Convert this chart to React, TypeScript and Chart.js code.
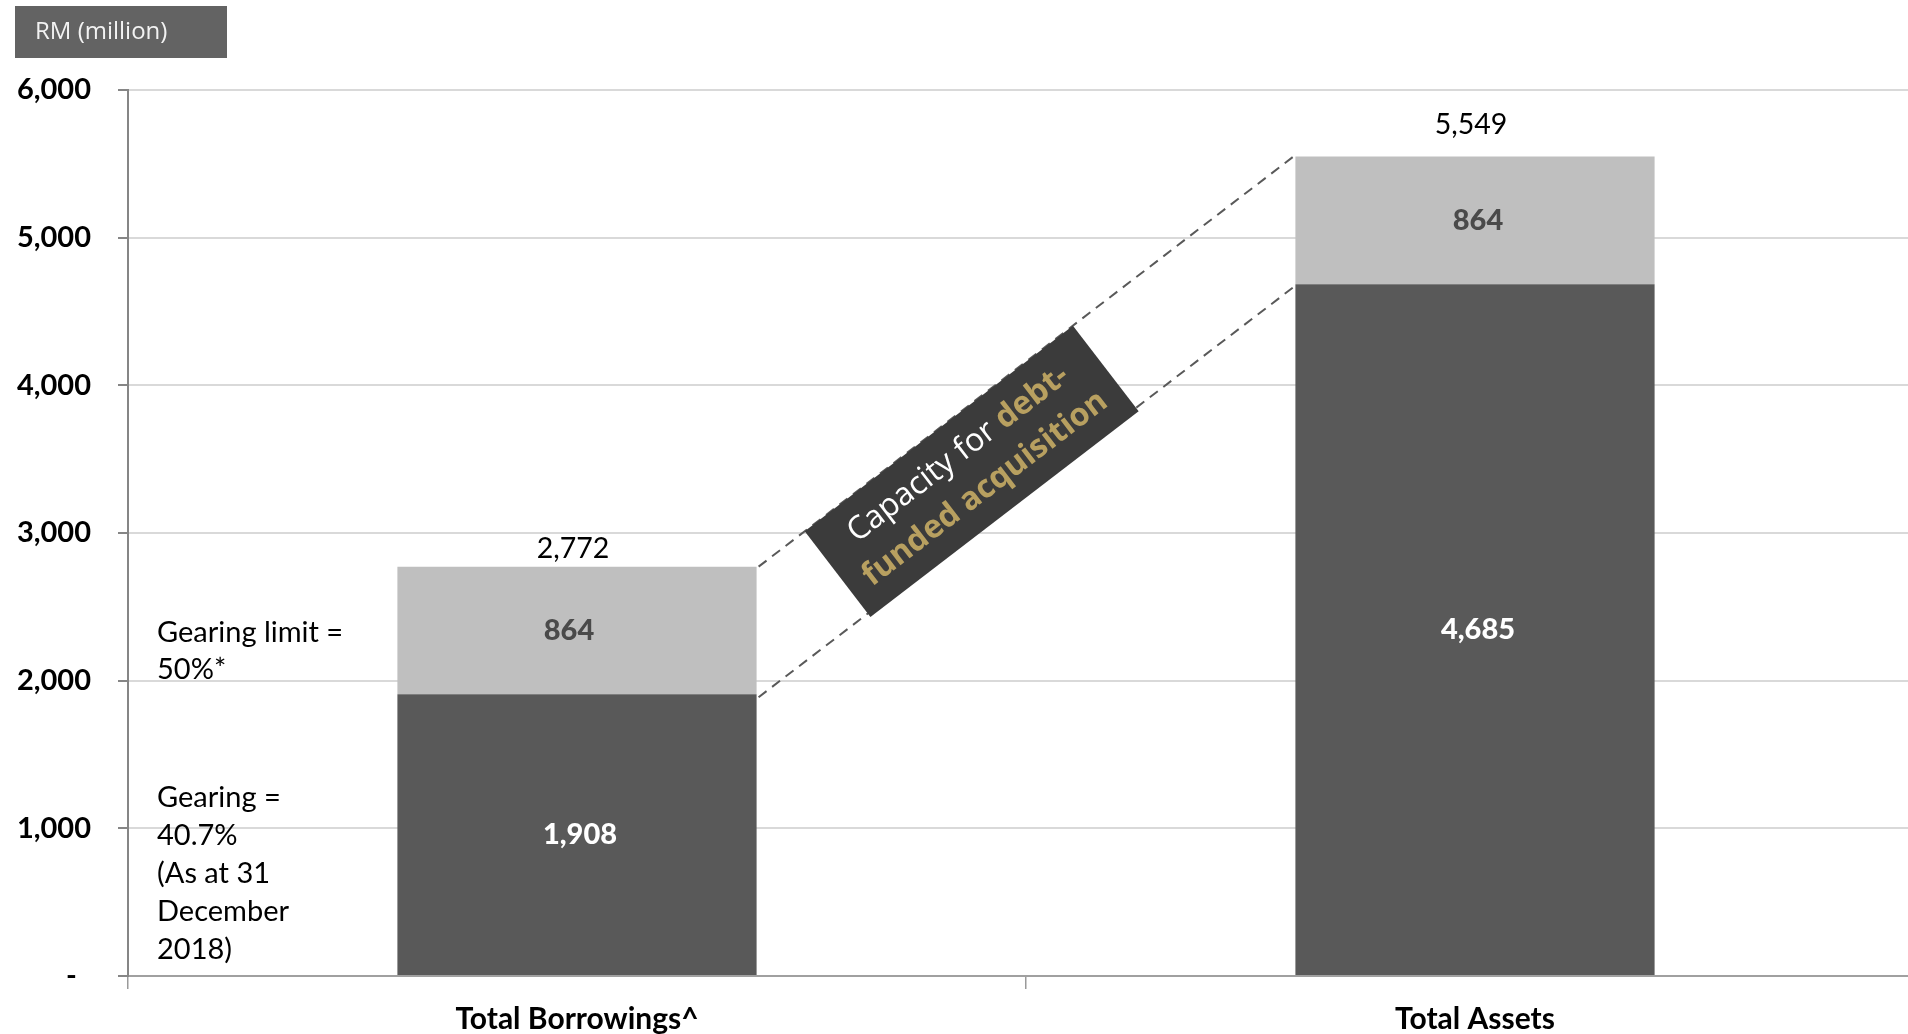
import React, { useEffect, useRef } from "react";
import { Chart, registerables } from "chart.js";

Chart.register(...registerables);

// ---- data ----
const categories = ["Total Borrowings^", "Total Assets"];
const baseValues = [1908, 4685];
const capacityValues = [864, 864];
const yTickValues = [0, 1000, 2000, 3000, 4000, 5000, 6000];
const unitLabel = "RM (million)";
const gearingLimitNote = ["Gearing limit =", "50%*"];
const gearingNote = ["Gearing =", "40.7%", "(As at 31", "December", "2018)"];
const calloutWhite = "Capacity for ";
const calloutGoldLine1 = "debt-";
const calloutGoldLine2 = "funded acquisition";

const fmt = (v: number) => v.toLocaleString("en-US");

const DARK = "#595959";
const LIGHT = "#bfbfbf";
const GOLD = "#b8a060";

const overlayPlugin = {
  id: "overlay",
  afterDatasetsDraw(chart: any) {
    const ctx: CanvasRenderingContext2D = chart.ctx;
    const ys = chart.scales.y;
    const ca = chart.chartArea;
    const baseEls = chart.getDatasetMeta(0).data;
    const capEls = chart.getDatasetMeta(1).data;
    ctx.save();

    // segment labels
    ctx.textAlign = "center";
    ctx.textBaseline = "middle";
    ctx.font = "900 29px Lato";
    baseEls.forEach((el: any, i: number) => {
      const p = el.getProps(["x", "y", "base"], true);
      ctx.fillStyle = "#ffffff";
      ctx.fillText(fmt(baseValues[i]), p.x + 3, (p.y + p.base) / 2);
    });
    const capShift = [-8, 3];
    capEls.forEach((el: any, i: number) => {
      const p = el.getProps(["x", "y", "base"], true);
      ctx.fillStyle = "#4a4a4a";
      ctx.fillText(fmt(capacityValues[i]), p.x + capShift[i], (p.y + p.base) / 2);
    });

    // totals above bars
    const totalOffsets = [18, 32];
    ctx.font = "28.5px Lato";
    ctx.fillStyle = "#000000";
    capEls.forEach((el: any, i: number) => {
      const p = el.getProps(["x", "y"], true);
      ctx.fillText(fmt(baseValues[i] + capacityValues[i]), p.x - 4, p.y - totalOffsets[i]);
    });

    // dashed connector lines
    const b0 = baseEls[0].getProps(["x", "width"], true);
    const b1 = baseEls[1].getProps(["x", "width"], true);
    const r1 = b0.x + b0.width / 2 + 2;
    const l2 = b1.x - b1.width / 2 - 2;
    const t0 = baseValues[0] + capacityValues[0];
    const t1 = baseValues[1] + capacityValues[1];
    const p1 = { x: r1, y: ys.getPixelForValue(t0) };
    const p2 = { x: l2, y: ys.getPixelForValue(t1) };
    const q1 = { x: r1, y: ys.getPixelForValue(baseValues[0]) + 3 };
    const q2 = { x: l2, y: ys.getPixelForValue(baseValues[1]) + 3 };
    ctx.strokeStyle = DARK;
    ctx.lineWidth = 2;
    ctx.setLineDash([10, 7]);
    ctx.beginPath();
    ctx.moveTo(p1.x, p1.y);
    ctx.lineTo(p2.x, p2.y);
    ctx.moveTo(q1.x, q1.y);
    ctx.lineTo(q2.x, q2.y);
    ctx.stroke();
    ctx.setLineDash([]);

    // rotated callout box
    const dx = p2.x - p1.x;
    const dy = p2.y - p1.y;
    const L = Math.hypot(dx, dy);
    const ux = dx / L, uy = dy / L;
    const nx = -uy, ny = ux;
    const boxLen = 338, boxW = 108;
    const s = 0.337 * L;
    const cx = p1.x + ux * s + nx * (boxW / 2);
    const cy = p1.y + uy * s + ny * (boxW / 2);
    ctx.translate(cx, cy);
    ctx.rotate(Math.atan2(dy, dx));
    ctx.fillStyle = "#3b3b3b";
    ctx.fillRect(-boxLen / 2, -boxW / 2, boxLen, boxW);
    ctx.textBaseline = "middle";
    ctx.textAlign = "left";
    const fs = 32;
    ctx.font = `${fs}px 'Open Sans'`;
    const w1 = ctx.measureText(calloutWhite).width;
    ctx.font = `bold ${fs}px 'Open Sans'`;
    const w2 = ctx.measureText(calloutGoldLine1).width;
    const start = -(w1 + w2) / 2;
    ctx.font = `${fs}px 'Open Sans'`;
    ctx.fillStyle = "#ffffff";
    ctx.fillText(calloutWhite, start, -22);
    ctx.font = `bold ${fs}px 'Open Sans'`;
    ctx.fillStyle = GOLD;
    ctx.fillText(calloutGoldLine1, start + w1, -22);
    ctx.textAlign = "center";
    ctx.fillText(calloutGoldLine2, 0, 22);
    ctx.restore();

    // side notes
    ctx.save();
    ctx.font = "29px Lato";
    ctx.fillStyle = "#000000";
    ctx.textAlign = "left";
    ctx.textBaseline = "middle";
    const nxPos = ca.left + 29;
    gearingLimitNote.forEach((t, i) => ctx.fillText(t, nxPos, ca.top + 543 + i * 37));
    gearingNote.forEach((t, i) => ctx.fillText(t, nxPos, ca.top + 708 + i * 38));
    ctx.restore();
  },
  afterDraw(chart: any) {
    const ctx: CanvasRenderingContext2D = chart.ctx;
    ctx.save();
    ctx.fillStyle = "#636363";
    ctx.fillRect(15, 6, 212, 52);
    ctx.fillStyle = "#f2f2f2";
    ctx.font = "24px 'Open Sans'";
    ctx.textAlign = "left";
    ctx.textBaseline = "middle";
    ctx.fillText(unitLabel, 35, 32);
    ctx.restore();
  },
};

export default function App() {
  const ref = useRef<HTMLCanvasElement>(null);
  useEffect(() => {
    const chart = new Chart(ref.current as HTMLCanvasElement, {
      type: "bar",
      data: {
        labels: categories,
        datasets: [
          { data: baseValues, backgroundColor: DARK, borderWidth: 0 },
          { data: capacityValues, backgroundColor: LIGHT, borderWidth: 0 },
        ],
      },
      options: {
        responsive: false,
        animation: false,
        devicePixelRatio: 1,
        layout: { padding: { top: 90, left: 0, right: 0, bottom: 0 } },
        datasets: { bar: { categoryPercentage: 1, barPercentage: 0.4 } },
        plugins: { legend: { display: false }, tooltip: { enabled: false } },
        scales: {
          x: {
            stacked: true,
            afterFit: (s: any) => { s.height = 58; },
            grid: {
              display: true,
              offset: true,
              drawOnChartArea: false,
              drawTicks: true,
              tickLength: 13,
              color: "#9a9a9a",
              lineWidth: 1.5,
            },
            border: { display: true, color: "#a0a0a0", width: 2 },
            ticks: {
              color: "#000000",
              font: { family: "Lato", size: 30, weight: "bold" },
              padding: 12,
            },
          },
          y: {
            stacked: true,
            min: 0,
            max: 6000,
            afterFit: (s: any) => { s.width = 128; },
            afterBuildTicks: (s: any) => { s.ticks = yTickValues.map((v) => ({ value: v })); },
            grid: {
              color: (c: any) => (c.tick && c.tick.value === 0 ? "#a0a0a0" : "#d9d9d9"),
              lineWidth: 2,
              tickLength: 10,
              tickColor: "#868686",
            },
            border: { display: true, color: "#868686", width: 2 },
            ticks: {
              color: "#000000",
              font: { family: "Lato", size: 29, weight: "bold" },
              padding: 27,
              callback: (v: any) => (Number(v) === 0 ? "-  " : fmt(Number(v))),
            },
          },
        },
      } as any,
      plugins: [overlayPlugin],
    });
    return () => chart.destroy();
  }, []);
  return (
    <div
      style={{
        position: "absolute",
        left: 0,
        top: 0,
        width: 1908,
        height: 1034,
        overflow: "hidden",
        background: "#ffffff",
      }}
    >
      <canvas ref={ref} width={1924} height={1034} style={{ display: "block", width: 1924, height: 1034 }} />
    </div>
  );
}
